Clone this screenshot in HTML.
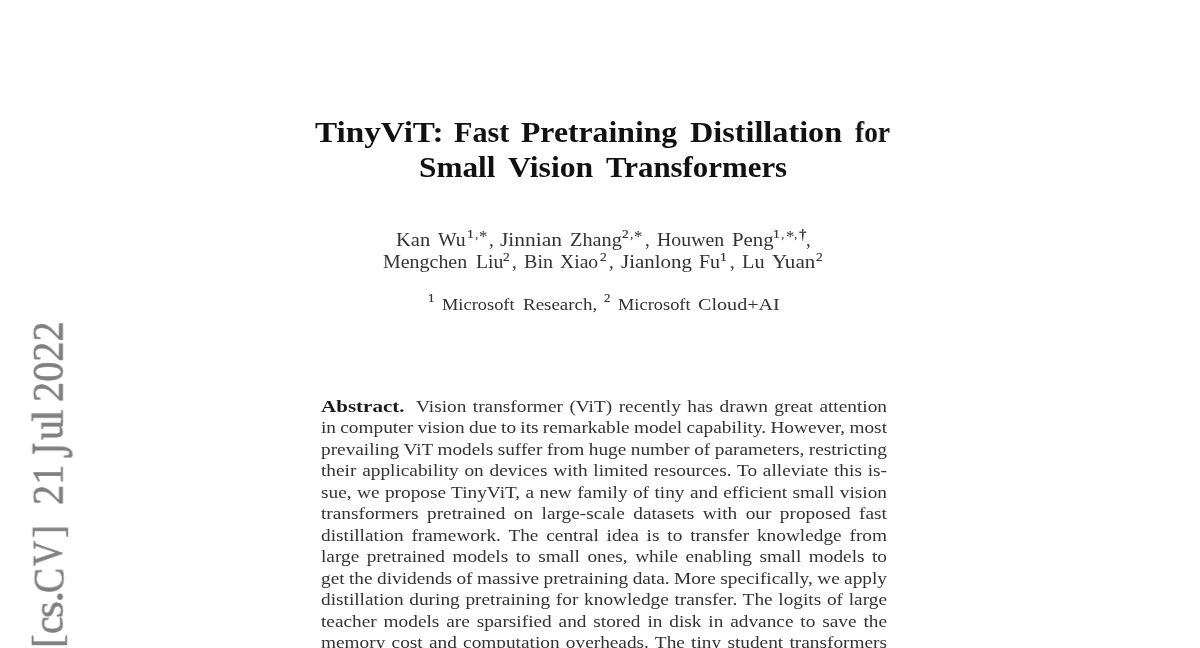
<!DOCTYPE html>
<html><head><meta charset="utf-8">
<style>
html,body{margin:0;padding:0;background:#fff;}
body{width:1200px;height:648px;overflow:hidden;position:relative;font-family:"Liberation Serif",serif;color:#000;}
.l{position:absolute;white-space:nowrap;line-height:1;transform-origin:0 0;will-change:transform;}
.j{white-space:normal;text-align:justify;text-align-last:justify;height:1em;overflow:visible;}
.ab{font-size:17.4px;letter-spacing:0px;word-spacing:-2px;color:#333;}
.side{position:absolute;will-change:transform;color:#808080;white-space:nowrap;transform-origin:0 0;line-height:1;font-size:40px;-webkit-text-stroke:0.5px #808080;}
</style></head><body>
<div class="l" style="left:315.25px;top:118.00px;font-size:29px;font-weight:bold;color:#111;transform:scaleX(1.1455);">TinyViT:</div>
<div class="l" style="left:453.60px;top:118.00px;font-size:29px;font-weight:bold;color:#111;transform:scaleX(1.0406);">Fast</div>
<div class="l" style="left:521.10px;top:118.00px;font-size:29px;font-weight:bold;color:#111;transform:scaleX(1.0937);">Pretraining</div>
<div class="l" style="left:690.10px;top:118.00px;font-size:29px;font-weight:bold;color:#111;transform:scaleX(1.1106);">Distillation</div>
<div class="l" style="left:855.10px;top:118.00px;font-size:29px;font-weight:bold;color:#111;transform:scaleX(0.9405);">for</div>
<div class="l" style="left:419.22px;top:153.20px;font-size:29px;font-weight:bold;color:#111;transform:scaleX(1.0786);">Small</div>
<div class="l" style="left:508.00px;top:153.20px;font-size:29px;font-weight:bold;color:#111;transform:scaleX(1.0936);">Vision</div>
<div class="l" style="left:605.80px;top:153.20px;font-size:29px;font-weight:bold;color:#111;transform:scaleX(1.0641);">Transformers</div>
<div class="l" style="left:396.00px;top:229.80px;font-size:19px;color:#333;transform:scaleX(1.0781);">Kan</div>
<div class="l" style="left:438.40px;top:229.80px;font-size:19px;color:#333;transform:scaleX(1.0370);">Wu</div>
<div class="l" style="left:500.25px;top:229.80px;font-size:19px;color:#333;transform:scaleX(1.1318);">Jinnian</div>
<div class="l" style="left:570.18px;top:229.80px;font-size:19px;color:#333;transform:scaleX(1.0691);">Zhang</div>
<div class="l" style="left:656.75px;top:229.80px;font-size:19px;color:#333;transform:scaleX(1.0430);">Houwen</div>
<div class="l" style="left:731.50px;top:229.80px;font-size:19px;color:#333;transform:scaleX(1.0974);">Peng</div>
<div class="l" style="left:488.75px;top:229.80px;font-size:19px;color:#333;">,</div>
<div class="l" style="left:644.50px;top:229.80px;font-size:19px;color:#333;">,</div>
<div class="l" style="left:806.20px;top:229.80px;font-size:19px;color:#333;">,</div>
<div class="l" style="left:467.20px;top:226.55px;font-size:13.5px;-webkit-text-stroke:0.2px;color:#333;">1</div>
<div class="l" style="left:474.70px;top:226.55px;font-size:13.5px;color:#333;">,</div>
<div class="l" style="left:622.25px;top:226.55px;font-size:13.5px;-webkit-text-stroke:0.2px;color:#333;">2</div>
<div class="l" style="left:629.50px;top:226.55px;font-size:13.5px;color:#333;">,</div>
<div class="l" style="left:773.10px;top:226.55px;font-size:13.5px;-webkit-text-stroke:0.2px;color:#333;">1</div>
<div class="l" style="left:780.90px;top:226.55px;font-size:13.5px;color:#333;">,</div>
<div class="l" style="left:793.80px;top:226.55px;font-size:13.5px;color:#333;">,</div>
<div class="l" style="left:798.90px;top:226.50px;font-size:15.0px;font-weight:bold;color:#333;">†</div>
<div class="l" style="left:478.90px;top:228.85px;font-size:16.9px;color:#333;">*</div>
<div class="l" style="left:634.00px;top:228.85px;font-size:16.9px;color:#333;">*</div>
<div class="l" style="left:785.50px;top:228.85px;font-size:16.9px;color:#333;">*</div>
<div class="l" style="left:383.25px;top:251.80px;font-size:19px;color:#333;transform:scaleX(1.0500);">Mengchen</div>
<div class="l" style="left:475.50px;top:251.80px;font-size:19px;color:#333;transform:scaleX(1.0385);">Liu</div>
<div class="l" style="left:524.25px;top:251.80px;font-size:19px;color:#333;transform:scaleX(1.0556);">Bin</div>
<div class="l" style="left:560.25px;top:251.80px;font-size:19px;color:#333;transform:scaleX(1.0338);">Xiao</div>
<div class="l" style="left:621.00px;top:251.80px;font-size:19px;color:#333;transform:scaleX(1.1016);">Jianlong</div>
<div class="l" style="left:699.00px;top:251.80px;font-size:19px;color:#333;transform:scaleX(1.0500);">Fu</div>
<div class="l" style="left:742.00px;top:251.80px;font-size:19px;color:#333;transform:scaleX(1.0667);">Lu</div>
<div class="l" style="left:772.20px;top:251.80px;font-size:19px;color:#333;transform:scaleX(1.1077);">Yuan</div>
<div class="l" style="left:512.00px;top:251.80px;font-size:19px;color:#333;">,</div>
<div class="l" style="left:608.75px;top:251.80px;font-size:19px;color:#333;">,</div>
<div class="l" style="left:730.00px;top:251.80px;font-size:19px;color:#333;">,</div>
<div class="l" style="left:503.25px;top:250.35px;font-size:13.5px;-webkit-text-stroke:0.2px;color:#333;">2</div>
<div class="l" style="left:600.00px;top:250.35px;font-size:13.5px;-webkit-text-stroke:0.2px;color:#333;">2</div>
<div class="l" style="left:719.75px;top:250.35px;font-size:13.5px;-webkit-text-stroke:0.2px;color:#333;">1</div>
<div class="l" style="left:815.80px;top:250.35px;font-size:13.5px;-webkit-text-stroke:0.2px;color:#333;">2</div>
<div class="l" style="left:442.20px;top:296.30px;font-size:17.2px;color:#333;transform:scaleX(1.0706);">Microsoft</div>
<div class="l" style="left:522.90px;top:296.30px;font-size:17.2px;color:#333;transform:scaleX(1.1030);">Research,</div>
<div class="l" style="left:618.00px;top:296.30px;font-size:17.2px;color:#333;transform:scaleX(1.0706);">Microsoft</div>
<div class="l" style="left:697.90px;top:296.30px;font-size:17.2px;color:#333;transform:scaleX(1.1710);">Cloud+AI</div>
<div class="l" style="left:427.70px;top:290.80px;font-size:13px;-webkit-text-stroke:0.2px;color:#333;">1</div>
<div class="l" style="left:603.70px;top:290.80px;font-size:13px;-webkit-text-stroke:0.2px;color:#333;">2</div>
<div class="l" style="left:320.50px;top:398.00px;font-size:17.4px;font-weight:bold;color:#1a1a1a;transform:scaleX(1.2101);">Abstract.</div>
<div class="l ab j" style="left:416px;top:398.00px;width:424.32px;transform:scaleX(1.11);">Vision transformer (ViT) recently has drawn great attention</div>
<div class="l ab j" style="left:321px;top:419.46px;width:509.91px;transform:scaleX(1.11);">in computer vision due to its remarkable model capability. However, most</div>
<div class="l ab j" style="left:321px;top:440.91px;width:509.91px;transform:scaleX(1.11);">prevailing ViT models suffer from huge number of parameters, restricting</div>
<div class="l ab j" style="left:321px;top:462.37px;width:509.91px;transform:scaleX(1.11);">their applicability on devices with limited resources. To alleviate this is-</div>
<div class="l ab j" style="left:321px;top:483.82px;width:509.91px;transform:scaleX(1.11);">sue, we propose TinyViT, a new family of tiny and efficient small vision</div>
<div class="l ab j" style="left:321px;top:505.28px;width:509.91px;transform:scaleX(1.11);">transformers pretrained on large-scale datasets with our proposed fast</div>
<div class="l ab j" style="left:321px;top:526.74px;width:509.91px;transform:scaleX(1.11);">distillation framework. The central idea is to transfer knowledge from</div>
<div class="l ab j" style="left:321px;top:548.19px;width:509.91px;transform:scaleX(1.11);">large pretrained models to small ones, while enabling small models to</div>
<div class="l ab j" style="left:321px;top:569.65px;width:509.91px;transform:scaleX(1.11);">get the dividends of massive pretraining data. More specifically, we apply</div>
<div class="l ab j" style="left:321px;top:591.10px;width:509.91px;transform:scaleX(1.11);">distillation during pretraining for knowledge transfer. The logits of large</div>
<div class="l ab j" style="left:321px;top:612.56px;width:509.91px;transform:scaleX(1.11);">teacher models are sparsified and stored in disk in advance to save the</div>
<div class="l ab j" style="left:321px;top:634.02px;width:509.91px;transform:scaleX(1.11);">memory cost and computation overheads. The tiny student transformers</div>
<div class="side" style="left:26.27px;top:401.52px;transform:rotate(-90deg) scale(1.0079,1.1038);">2022</div>
<div class="side" style="left:25.91px;top:421.63px;transform:rotate(-90deg) scale(1.1333,1.1179);">l</div>
<div class="side" style="left:25.28px;top:440.00px;transform:rotate(-90deg) scale(1.0000,1.1368);">u</div>
<div class="side" style="left:24.02px;top:457.66px;transform:rotate(-90deg) scale(0.9643,1.4538);">J</div>
<div class="side" style="left:25.77px;top:505.22px;transform:rotate(-90deg) scale(1.0111,1.1192);">21</div>
<div class="side" style="left:26.99px;top:537.67px;transform:rotate(-90deg) scale(0.9667,1.0529);">]</div>
<div class="side" style="left:26.06px;top:565.70px;transform:rotate(-90deg) scale(0.8724,1.0778);">V</div>
<div class="side" style="left:25.71px;top:592.88px;transform:rotate(-90deg) scale(0.9391,1.1269);">C</div>
<div class="side" style="left:26.04px;top:603.25px;transform:rotate(-90deg) scale(1.2500,1.1200);">.</div>
<div class="side" style="left:26.23px;top:617.57px;transform:rotate(-90deg) scale(1.0833,1.1050);">s</div>
<div class="side" style="left:26.23px;top:633.99px;transform:rotate(-90deg) scale(0.9867,1.1050);">c</div>
<div class="side" style="left:27.36px;top:647.60px;transform:rotate(-90deg) scale(1.0333,1.0353);">[</div>
</body></html>
